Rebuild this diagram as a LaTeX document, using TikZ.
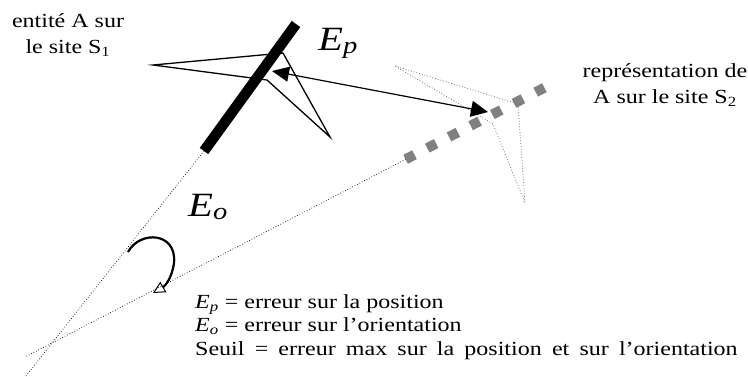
\documentclass[tikz,border=0pt]{standalone}
\usepackage{fontspec}
\setmainfont{Liberation Serif}
\usetikzlibrary{arrows.meta}
\begin{document}
\begin{tikzpicture}[x=1pt,y=-1pt,
  lbl/.style={inner sep=0pt, xscale=1.2, font=\fontsize{20}{26}\selectfont},
  legendtxt/.style={inner sep=0pt, xscale=1.2, align=left, font=\fontsize{20}{23.5}\selectfont},
  big/.style={inner sep=0pt, xscale=1.2, font=\fontsize{34}{40}\selectfont\itshape},
  cone/.style={line width=0.7pt, dotted, black},
  entity/.style={line width=1.3pt, black, line join=miter},
  ghost/.style={line width=0.8pt, dotted, black!55},
  blackbar/.style={line width=10.5pt, black},
  greybar/.style={line width=10pt, black!50, dash pattern=on 10pt off 14.4pt},
  errarrow/.style={line width=1.2pt, {Triangle[length=17pt,width=15pt]}-{Triangle[length=17pt,width=16pt]}},
  turn/.style={line width=2.2pt, -{Triangle[open,length=12pt,width=12pt,line width=1pt]}}
]
\useasboundingbox (0,0) rectangle (748,376);

% cone of orientation error
\coordinate (barTop) at (296,24);
\coordinate (barBot) at (204,151);
\coordinate (coneA) at (26,376);
\coordinate (gBarS) at (405.6,159.3);
\coordinate (gBarE) at (544.4,87.7);
\coordinate (coneB) at (25,357);
\draw[cone] (barBot) -- (coneA);
\draw[cone] (gBarS) -- (coneB);

% entity A on site S1
\coordinate (a1) at (153,65);
\coordinate (a2) at (283,53);
\coordinate (a3) at (330,137);
\coordinate (a4) at (267,80);
\draw[entity] (a1) -- (a2) -- (a3) -- (a4) -- cycle;

% representation on site S2
\coordinate (b1) at (395,66);
\coordinate (b2) at (518,104);
\coordinate (b3) at (525,203);
\coordinate (b4) at (493,124);
\draw[ghost] (b1) -- (b2) -- (b3) -- (b4) -- cycle;

% bars
\draw[blackbar] (barBot) -- (barTop);
\draw[greybar] (gBarS) -- (gBarE);

% position error arrow
\coordinate (epS) at (272,71);
\coordinate (epE) at (488,112);
\draw[errarrow] (epS) -- (epE);

% orientation error curved arrow
\coordinate (cS) at (128,252);
\coordinate (cE) at (153,293);
\draw[turn] (cS) .. controls (140,230) and (177,232) .. (174,263)
  .. controls (172,278) and (165,286) .. (cE);

% labels
\node[lbl, align=center, anchor=north] (labS1) at (68,13) {entité A sur\\le site S\textsubscript{1}};
\node[lbl, align=center, anchor=north] (labS2) at (665,63) {représentation de\\A sur le site S\textsubscript{2}};
\node[big, anchor=base west] (Ep) at (318,50) {E\textsubscript{p}};
\node[big, anchor=base west] (Eo) at (188,216) {E\textsubscript{o}};
\node[legendtxt, anchor=north west] (legend) at (195,294)
  {\textit{E}\textsubscript{\textit{p}} = erreur sur la position\\
   \textit{E}\textsubscript{\textit{o}} = erreur sur l’orientation\\
   \makebox[452pt][s]{Seuil = erreur max sur la position et sur l’orientation}};
\end{tikzpicture}
\end{document}
